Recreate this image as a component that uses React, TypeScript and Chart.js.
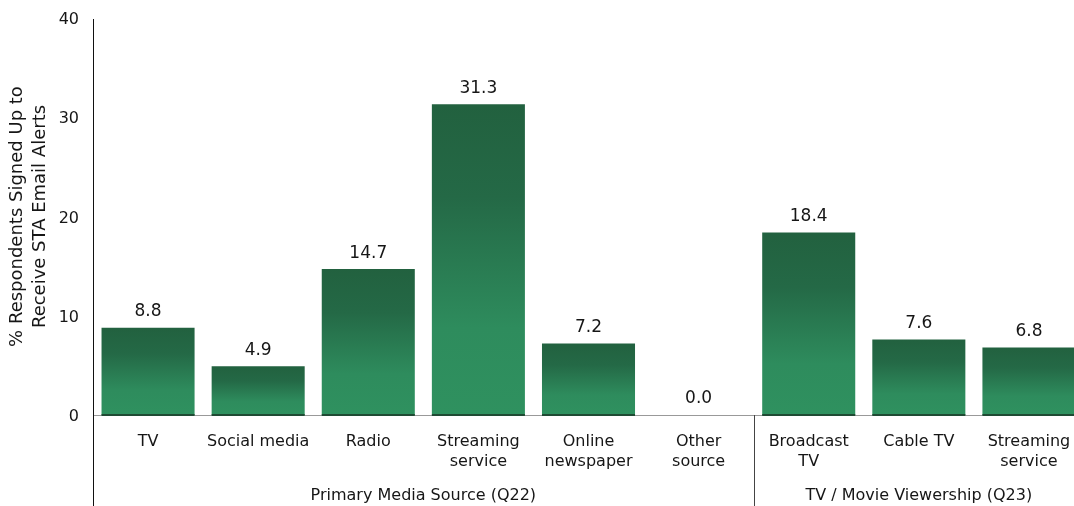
import React, { useEffect, useRef } from "react";
import { Chart, registerables } from "chart.js";

Chart.register(...registerables);

const categories: (string | string[])[] = [
  "TV",
  "Social media",
  "Radio",
  ["Streaming", "service"],
  ["Online", "newspaper"],
  ["Other", "source"],
  ["Broadcast", "TV"],
  "Cable TV",
  ["Streaming", "service"],
];
const values = [8.8, 4.9, 14.7, 31.3, 7.2, 0.0, 18.4, 7.6, 6.8];
const groups = [
  { label: "Primary Media Source (Q22)", start: 0, end: 5 },
  { label: "TV / Movie Viewership (Q23)", start: 6, end: 8 },
];
const yTicks = [0, 10, 20, 30, 40];
const yTitle = ["% Respondents Signed Up to", "Receive STA Email Alerts"];

const FONT = "'DejaVu Sans', Verdana, sans-serif";
const TEXT = "#161616";

const W = 1086;
const H = 506;

const overlay = {
  id: "overlay",
  afterDatasetsDraw(chart: any) {
    const ctx = chart.ctx;
    const area = chart.chartArea;
    const x = chart.scales.x;
    const y = chart.scales.y;
    const meta = chart.getDatasetMeta(0);
    ctx.save();
    // data labels
    ctx.fillStyle = TEXT;
    ctx.font = `17px ${FONT}`;
    ctx.textAlign = "center";
    ctx.textBaseline = "middle";
    meta.data.forEach((bar: any, i: number) => {
      ctx.fillText(values[i].toFixed(1), bar.x, bar.y - 16);
    });
    // y tick labels
    ctx.font = `16px ${FONT}`;
    ctx.textAlign = "right";
    yTicks.forEach((v) => {
      ctx.fillText(String(v), area.left - 14, y.getPixelForValue(v) + 2);
    });
    ctx.textAlign = "center";
    // axis lines
    ctx.strokeStyle = "#999";
    ctx.lineWidth = 1;
    ctx.beginPath();
    ctx.moveTo(area.left, area.bottom + 0.5);
    ctx.lineTo(area.right, area.bottom + 0.5);
    ctx.stroke();
    ctx.strokeStyle = "#1f4a33";
    ctx.lineWidth = 2;
    meta.data.forEach((bar: any) => {
      if (bar.base - bar.y < 1) return;
      ctx.beginPath();
      ctx.moveTo(bar.x - bar.width / 2, area.bottom);
      ctx.lineTo(bar.x + bar.width / 2, area.bottom);
      ctx.stroke();
    });
    ctx.strokeStyle = "#111";
    ctx.lineWidth = 1;
    ctx.beginPath();
    ctx.moveTo(area.left + 0.5, area.top + 1);
    ctx.lineTo(area.left + 0.5, H);
    ctx.stroke();
    // group separators and labels
    const step = x.getPixelForValue(1) - x.getPixelForValue(0);
    ctx.strokeStyle = "#444";
    ctx.font = `16px ${FONT}`;
    ctx.fillStyle = TEXT;
    groups.forEach((g, gi) => {
      const left = x.getPixelForValue(g.start) - step / 2;
      const right = x.getPixelForValue(g.end) + step / 2;
      if (gi > 0) {
        ctx.beginPath();
        ctx.moveTo(Math.round(left) + 0.5, area.bottom);
        ctx.lineTo(Math.round(left) + 0.5, H);
        ctx.stroke();
      }
      ctx.fillText(g.label, (left + right) / 2, 496);
    });
    // y title
    ctx.font = `18px ${FONT}`;
    ctx.translate(0, (area.top + area.bottom) / 2);
    ctx.rotate(-Math.PI / 2);
    ctx.fillText(yTitle[0], 0, 17);
    ctx.fillText(yTitle[1], 0, 40);
    ctx.restore();
  },
};

export default function App() {
  const ref = useRef<HTMLCanvasElement>(null);
  useEffect(() => {
    if (!ref.current) return;
    const chart = new Chart(ref.current, {
      type: "bar",
      data: {
        labels: categories,
        datasets: [
          {
            data: values,
            backgroundColor: (c: any) => {
              const chart = c.chart;
              if (!chart.chartArea || c.type !== "data") return "#2a7d53";
              const y = chart.scales.y;
              const top = y.getPixelForValue(c.raw);
              const base = y.getPixelForValue(0);
              if (base - top < 1) return "#2e8f5f";
              const g = chart.ctx.createLinearGradient(0, top, 0, base);
              g.addColorStop(0, "#22613f");
              g.addColorStop(0.3, "#246946");
              g.addColorStop(0.72, "#2e8c5d");
              g.addColorStop(1, "#2f915f");
              return g;
            },
            borderWidth: 0,
            barPercentage: 0.845,
            categoryPercentage: 1,
          },
        ],
      },
      options: {
        responsive: false,
        animation: false,
        layout: { padding: { top: 18, right: 2, bottom: 0, left: 0 } },
        plugins: {
          legend: { display: false },
          tooltip: { enabled: false },
        },
        scales: {
          x: {
            grid: { display: false, drawTicks: false },
            border: { display: false },
            ticks: {
              color: TEXT,
              font: { family: FONT, size: 16, lineHeight: 1.3 },
              padding: 16,
              autoSkip: false,
              maxRotation: 0,
              minRotation: 0,
            },
            afterFit: (s: any) => {
              s.height = 91;
              s.paddingLeft = 0;
              s.paddingRight = 0;
            },
          },
          y: {
            min: 0,
            max: 40,
            afterBuildTicks: (s: any) => {
              s.ticks = yTicks.map((v) => ({ value: v }));
            },
            grid: { display: false, drawTicks: false },
            border: { display: false },
            ticks: { display: false },
            afterFit: (s: any) => {
              s.width = 93;
              s.paddingTop = 0;
              s.paddingBottom = 0;
            },
          },
        },
      },
      plugins: [overlay],
    });
    return () => chart.destroy();
  }, []);
  return (
    <div
      style={{
        position: "fixed",
        left: 0,
        top: 0,
        width: 1074,
        height: 506,
        overflow: "hidden",
        background: "#fff",
      }}
    >
      <canvas ref={ref} width={W} height={H} style={{ width: W, height: H, display: "block" }} />
    </div>
  );
}
